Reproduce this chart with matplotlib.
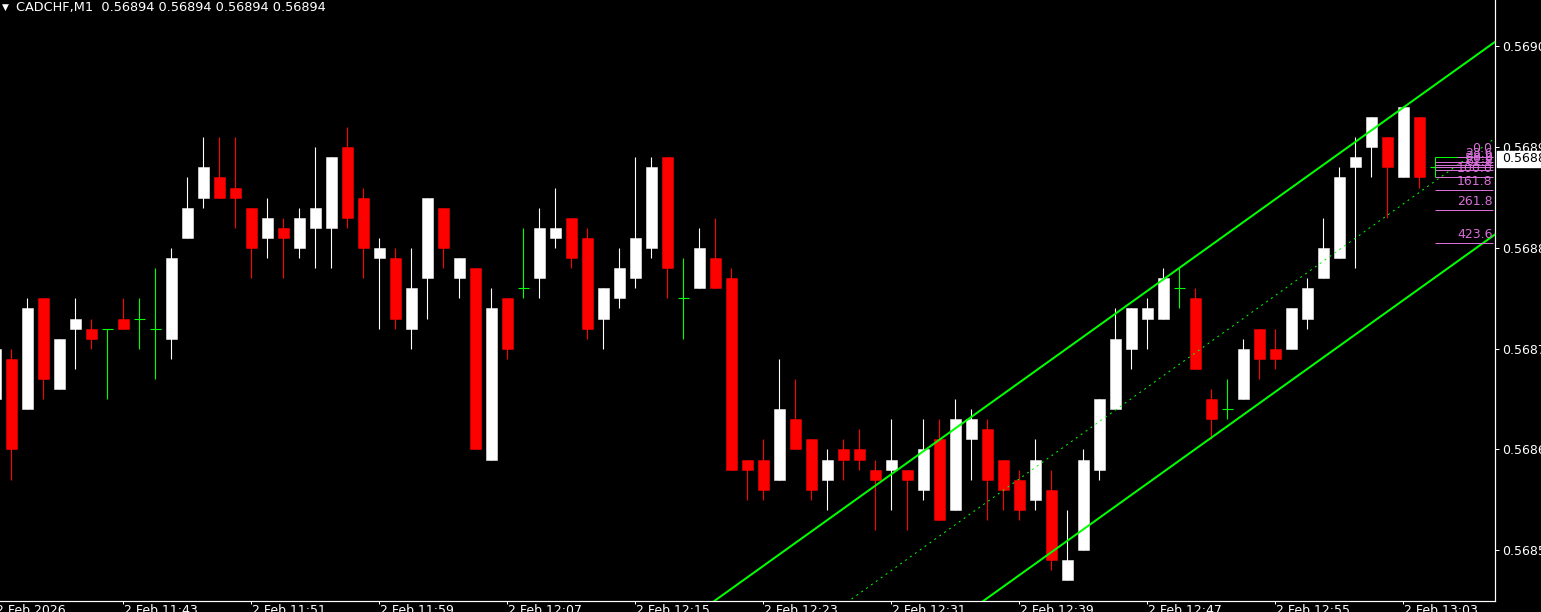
import matplotlib
matplotlib.use('Agg')
import matplotlib.pyplot as plt
from matplotlib.patches import Rectangle

# ---------------- data ----------------
symbol = "CADCHF,M1"
title_ohlc = [0.56894, 0.56894, 0.56894, 0.56894]
first_index = -1

opens = [0.56865, 0.56869, 0.56864, 0.56875, 0.56866, 0.56872, 0.56872, 0.56872, 0.56873, 0.56873,
         0.56872, 0.56871, 0.56881, 0.56885, 0.56887, 0.56886, 0.56884, 0.56881, 0.56882, 0.56880,
         0.56882, 0.56882, 0.56890, 0.56885, 0.56879, 0.56879, 0.56872, 0.56877, 0.56884, 0.56877,
         0.56878, 0.56859, 0.56875, 0.56876, 0.56877, 0.56881, 0.56883, 0.56881, 0.56873, 0.56875,
         0.56877, 0.56880, 0.56889, 0.56875, 0.56876, 0.56879, 0.56877, 0.56859, 0.56859, 0.56857,
         0.56863, 0.56861, 0.56857, 0.56860, 0.56860, 0.56858, 0.56858, 0.56858, 0.56856, 0.56861,
         0.56854, 0.56861, 0.56862, 0.56859, 0.56857, 0.56855, 0.56856, 0.56847, 0.56850, 0.56858,
         0.56864, 0.56870, 0.56873, 0.56873, 0.56876, 0.56875, 0.56865, 0.56864, 0.56865, 0.56872,
         0.56870, 0.56870, 0.56873, 0.56877, 0.56879, 0.56888, 0.56890, 0.56891, 0.56887, 0.56893,
         0.56888]
highs = [0.56871, 0.56870, 0.56875, 0.56875, 0.56871, 0.56875, 0.56873, 0.56872, 0.56875, 0.56875,
         0.56878, 0.56880, 0.56887, 0.56891, 0.56891, 0.56891, 0.56884, 0.56885, 0.56883, 0.56884,
         0.56890, 0.56889, 0.56892, 0.56886, 0.56881, 0.56880, 0.56880, 0.56885, 0.56884, 0.56879,
         0.56878, 0.56876, 0.56875, 0.56882, 0.56884, 0.56886, 0.56883, 0.56882, 0.56876, 0.56880,
         0.56889, 0.56889, 0.56889, 0.56879, 0.56882, 0.56883, 0.56878, 0.56859, 0.56861, 0.56869,
         0.56867, 0.56861, 0.56860, 0.56861, 0.56862, 0.56859, 0.56863, 0.56858, 0.56863, 0.56863,
         0.56865, 0.56864, 0.56863, 0.56859, 0.56858, 0.56861, 0.56858, 0.56854, 0.56860, 0.56865,
         0.56874, 0.56874, 0.56875, 0.56878, 0.56878, 0.56876, 0.56866, 0.56867, 0.56871, 0.56872,
         0.56872, 0.56874, 0.56877, 0.56883, 0.56888, 0.56891, 0.56893, 0.56891, 0.56894, 0.56893,
         0.56888]
lows = [0.56862, 0.56857, 0.56864, 0.56865, 0.56866, 0.56868, 0.56870, 0.56865, 0.56872, 0.56870,
        0.56867, 0.56869, 0.56881, 0.56884, 0.56885, 0.56882, 0.56877, 0.56879, 0.56877, 0.56879,
        0.56878, 0.56878, 0.56882, 0.56877, 0.56872, 0.56872, 0.56870, 0.56873, 0.56878, 0.56875,
        0.56860, 0.56859, 0.56869, 0.56875, 0.56875, 0.56880, 0.56878, 0.56871, 0.56870, 0.56874,
        0.56876, 0.56879, 0.56875, 0.56871, 0.56876, 0.56876, 0.56858, 0.56855, 0.56855, 0.56857,
        0.56860, 0.56855, 0.56854, 0.56857, 0.56858, 0.56852, 0.56854, 0.56852, 0.56855, 0.56853,
        0.56854, 0.56857, 0.56853, 0.56854, 0.56853, 0.56854, 0.56848, 0.56847, 0.56850, 0.56857,
        0.56864, 0.56868, 0.56870, 0.56873, 0.56874, 0.56868, 0.56861, 0.56863, 0.56865, 0.56867,
        0.56868, 0.56870, 0.56872, 0.56877, 0.56879, 0.56878, 0.56887, 0.56883, 0.56887, 0.56886,
        0.56888]
closes = [0.56870, 0.56860, 0.56874, 0.56867, 0.56871, 0.56873, 0.56871, 0.56872, 0.56872, 0.56873,
          0.56872, 0.56879, 0.56884, 0.56888, 0.56885, 0.56885, 0.56880, 0.56883, 0.56881, 0.56883,
          0.56884, 0.56889, 0.56883, 0.56880, 0.56880, 0.56873, 0.56876, 0.56885, 0.56880, 0.56879,
          0.56860, 0.56874, 0.56870, 0.56876, 0.56882, 0.56882, 0.56879, 0.56872, 0.56876, 0.56878,
          0.56881, 0.56888, 0.56878, 0.56875, 0.56880, 0.56876, 0.56858, 0.56858, 0.56856, 0.56864,
          0.56860, 0.56856, 0.56859, 0.56859, 0.56859, 0.56857, 0.56859, 0.56857, 0.56860, 0.56853,
          0.56863, 0.56863, 0.56857, 0.56856, 0.56854, 0.56859, 0.56849, 0.56849, 0.56859, 0.56865,
          0.56871, 0.56874, 0.56874, 0.56877, 0.56876, 0.56868, 0.56863, 0.56864, 0.56870, 0.56869,
          0.56869, 0.56874, 0.56876, 0.56880, 0.56887, 0.56889, 0.56893, 0.56888, 0.56894, 0.56887,
          0.56888]

time_tick_idx = [-1, 7, 15, 23, 31, 39, 47, 55, 63, 71, 79, 87]
time_labels = ["2 Feb 2026", "2 Feb 11:43", "2 Feb 11:51", "2 Feb 11:59", "2 Feb 12:07",
               "2 Feb 12:15", "2 Feb 12:23", "2 Feb 12:31", "2 Feb 12:39", "2 Feb 12:47",
               "2 Feb 12:55", "2 Feb 13:03"]
price_ticks = [0.5685, 0.5686, 0.5687, 0.5688, 0.5689, 0.5690]
price_labels = ["0.5685", "0.5686", "0.5687", "0.5688", "0.5689", "0.5690"]

channel_x = [40.0, 92.75]
channel_upper = [0.5684046, 0.5690046]
channel_width = 0.0001912

fib_levels = [0.0, 23.6, 38.2, 50.0, 61.8, 100.0, 161.8, 261.8, 423.6]
fib_level_labels = ["0.0", "23.6", "38.2", "50.0", "61.8", "100.0", "161.8", "261.8", "423.6"]
fib_price_0 = 0.56889
fib_price_100 = 0.56887
fib_x = [89.0, 92.6]
bid_price = 0.56889
bid_label = "0.56889"

# ---------------- figure ----------------
W, H = 1541, 612
fig = plt.figure(figsize=(W / 100, H / 100), dpi=100, facecolor='black')
ax = fig.add_axes([0, 11 / H, 1495 / W, 601 / H])
ax.set_facecolor('black')
PX = 0.72  # points per pixel

n = len(opens)
xs = [first_index + i for i in range(n)]
body_w = 11 / 16

for x, o, h, l, c in zip(xs, opens, highs, lows, closes):
    if c > o:
        col = 'white'
    elif c < o:
        col = '#ff0000'
    else:
        col = '#00ff00'
    ax.vlines(x, l, h, color=col, linewidth=1.1 * PX, zorder=2)
    if c == o:
        ax.hlines(o, x - body_w / 2, x + body_w / 2, color=col, linewidth=1.1 * PX, zorder=2)
    else:
        ax.bar(x, abs(c - o), bottom=min(o, c), width=body_w, color=col,
               edgecolor=col, linewidth=0.5 * PX, zorder=3)

# channel
ux = channel_x
uy = channel_upper
ax.plot(ux, uy, color='#00ff00', linewidth=2 * PX, zorder=5)
ax.plot(ux, [v - channel_width for v in uy], color='#00ff00', linewidth=2 * PX, zorder=5)
ax.plot(ux, [v - channel_width / 2 for v in uy], color='#00ff00', linewidth=1 * PX,
        linestyle=(0, (2, 4)), zorder=5)

# fibonacci levels
fib_col = '#d86ed8'
rng = fib_price_0 - fib_price_100
for lev, lab in zip(fib_levels, fib_level_labels):
    p = fib_price_0 - rng * lev / 100.0
    ax.hlines(p, fib_x[0], fib_x[1], color=fib_col, linewidth=1 * PX, zorder=6)
    ax.annotate(lab, xy=(fib_x[1], p), xytext=(0, 1.5), textcoords='offset points',
                ha='right', va='bottom', color=fib_col, fontsize=9,
                family='DejaVu Sans', zorder=7)
ax.vlines(fib_x[0], fib_price_100, fib_price_0, color='#00ff00', linewidth=1 * PX, zorder=6)
ax.hlines(fib_price_0, fib_x[0], fib_x[0] + 1.4, color='#00ff00', linewidth=1 * PX, zorder=6)

for s in ['left', 'top']:
    ax.spines[s].set_visible(False)
for s in ['right', 'bottom']:
    ax.spines[s].set_color('white')
    ax.spines[s].set_linewidth(1.2 * PX)

ax.yaxis.tick_right()
ax.set_yticks(price_ticks)
ax.set_yticklabels(price_labels)
ax.tick_params(axis='y', colors='white', direction='out', length=4 * PX, width=1 * PX,
               pad=2.5, labelsize=9, labelcolor='white')
ax.set_xticks(time_tick_idx)
ax.set_xticklabels([])
ax.tick_params(axis='x', colors='white', direction='out', length=3 * PX, width=1 * PX)

# axes limits (set after ticks so ticks don't widen the view)
ax.set_xlim(-11 / 16, (1495 - 11) / 16)
ax.set_ylim(0.5690 - 55.04e-5, 0.5690 + 46.5 / 10.075 * 1e-5)

for t, lab in zip(time_tick_idx, time_labels):
    ax.annotate(lab, xy=(t, 0), xycoords=('data', 'axes fraction'), xytext=(0.5, -2),
                textcoords='offset points', ha='left', va='top', color='white',
                fontsize=9, annotation_clip=False)

# bid label box
fig.patches.append(Rectangle((1497 / W, 1 - 167 / H), (W - 1497) / W, 16 / H,
                             transform=fig.transFigure, facecolor='white',
                             edgecolor='white', zorder=10))
fig.text(1502 / W, 1 - 159 / H, bid_label, color='black', fontsize=9,
         ha='left', va='center', zorder=11)

# title
fig.text(2 / W, 1 - 7 / H, "\u25BC", color='white', fontsize=6.5, ha='left', va='center')
fig.text(16 / W, 1 - 7 / H,
         symbol + "  " + " ".join(f"{v:.5f}" for v in title_ohlc),
         color='white', fontsize=9.3, ha='left', va='center')

fig.savefig('out.png', dpi=100, facecolor='black')
